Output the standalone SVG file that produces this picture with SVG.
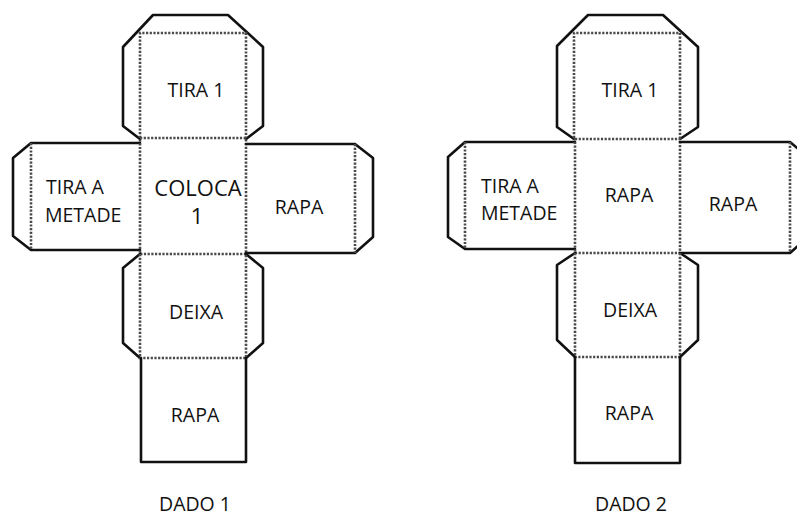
<svg xmlns="http://www.w3.org/2000/svg" width="797" height="517" viewBox="0 0 797 517">
<style>
.cut{fill:none;stroke:#111;stroke-width:2.6;stroke-linejoin:round;stroke-linecap:round}
.fold{fill:none;stroke:#4a4a4a;stroke-width:2.6;stroke-dasharray:2.2 1.5}
.t{font-family:"Open Sans","Liberation Sans",sans-serif;font-size:19.5px;fill:#111;text-anchor:middle}
.l{text-anchor:start}
.big{font-size:22px}
</style>
<rect width="797" height="517" fill="#fff"/>
<g id="dado1">
  <g id="d1-top">
    <path class="cut" d="M140,139 L123,126 L123,47 L153,15 L228,15 L263,47 L263,126 L246,139"/>
    <path class="fold" d="M140,138 L140,33 L246,33 L246,138"/>
    <text class="t" x="196" y="97">TIRA 1</text>
  </g>
  <g id="d1-left">
    <path class="cut" d="M140,143 L31,143 L13,158 L13,236 L31,250 L140,250"/>
    <path class="fold" d="M31,143 L31,250"/>
    <text class="t l" x="46" y="194">TIRA A</text>
    <text class="t l" x="45" y="222">METADE</text>
  </g>
  <g id="d1-center">
    <path class="fold" d="M140,138 L246,138 L246,254 L140,254 Z"/>
    <text class="t big" x="198" y="196">COLOCA</text>
    <text class="t big" x="197" y="224">1</text>
  </g>
  <g id="d1-right">
    <path class="cut" d="M246,144 L355,144 L373,158 L373,237 L355,253 L246,253"/>
    <path class="fold" d="M355,144 L355,253"/>
    <text class="t" x="299" y="214">RAPA</text>
  </g>
  <g id="d1-deixa">
    <path class="cut" d="M140,254 L123,268 L123,343 L140,358"/>
    <path class="cut" d="M246,254 L263,268 L263,343 L246,358"/>
    <path class="fold" d="M140,254 L140,358 L246,358 L246,254"/>
    <text class="t" x="196" y="319">DEIXA</text>
  </g>
  <g id="d1-bottom">
    <path class="cut" d="M141,358 L141,462 L246,462 L246,358"/>
    <text class="t" x="195" y="422">RAPA</text>
  </g>
  <text id="d1-label" class="t" x="195" y="511">DADO 1</text>
</g>
<g id="dado2">
  <g id="d2-top">
    <path class="cut" d="M574,139 L557,127 L557,46 L588,15 L663,15 L698,47 L698,127 L680,139"/>
    <path class="fold" d="M574,138 L574,33 L680,33 L680,138"/>
    <text class="t" x="630" y="97">TIRA 1</text>
  </g>
  <g id="d2-left">
    <path class="cut" d="M575,142 L465,142 L448,157 L448,237 L465,249 L575,249"/>
    <path class="fold" d="M465,142 L465,249"/>
    <text class="t l" x="481" y="193">TIRA A</text>
    <text class="t l" x="481" y="220">METADE</text>
  </g>
  <g id="d2-center">
    <path class="fold" d="M575,139 L680,139 L680,253 L575,253 Z"/>
    <text class="t" x="629" y="202">RAPA</text>
  </g>
  <g id="d2-right">
    <path class="cut" d="M680,142 L790,142 L808,157 L808,237 L790,253 L680,253"/>
    <path class="fold" d="M790,142 L790,253"/>
    <text class="t" x="733" y="211">RAPA</text>
  </g>
  <g id="d2-deixa">
    <path class="cut" d="M575,253 L557,265 L557,340 L575,357"/>
    <path class="cut" d="M680,253 L698,265 L698,340 L680,357"/>
    <path class="fold" d="M575,253 L575,357 L680,357 L680,253"/>
    <text class="t" x="630" y="317">DEIXA</text>
  </g>
  <g id="d2-bottom">
    <path class="cut" d="M575,357 L575,463 L680,463 L680,357"/>
    <text class="t" x="629" y="420">RAPA</text>
  </g>
  <text id="d2-label" class="t" x="631" y="511">DADO 2</text>
</g>
</svg>
